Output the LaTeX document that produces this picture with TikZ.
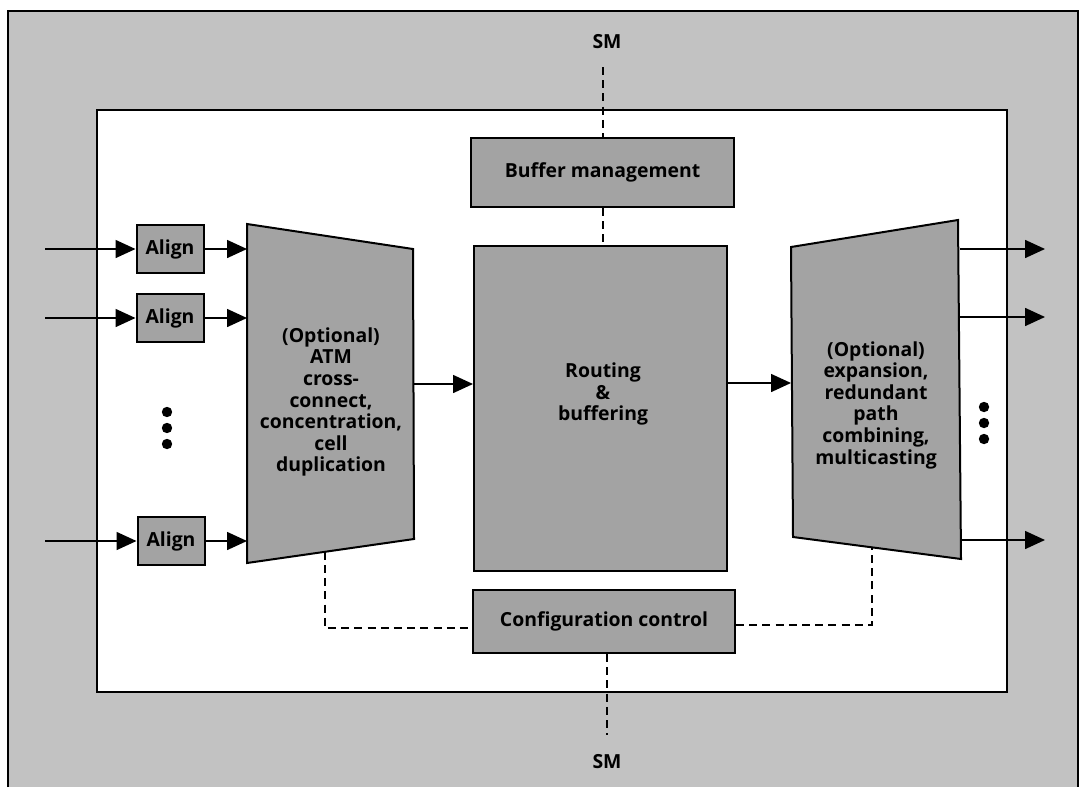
\documentclass[tikz,border=0pt]{standalone}
\usepackage{fontspec}
\newfontfamily\labelfont{Open Sans}
\usetikzlibrary{arrows.meta,calc}
\definecolor{panelgray}{gray}{0.76}
\definecolor{blockgray}{gray}{0.64}
\tikzset{
  px/.style={x=0.5pt,y=-0.5pt},
  txt/.style={font=\labelfont\bfseries\fontsize{9.7}{10.8}\selectfont},
  block/.style={draw=black,line width=1pt,fill=blockgray},
  boxnode/.style={block,txt,inner sep=0pt,align=center},
  lbl/.style={txt,inner sep=0pt,align=center},
  flow/.style={line width=0.8pt,-{Triangle[length=10pt,width=9pt]}},
  ctrl/.style={line width=0.85pt,dash pattern=on 4pt off 2.6pt},
  dotmark/.style={circle,fill=black,inner sep=0pt,minimum size=5.2pt}
}
\begin{document}
\begin{tikzpicture}[px]
\useasboundingbox (0,0) rectangle (1081,787);
% page ground and shaded surround
\fill[white] (0,0) rectangle (1081,787);
\fill[panelgray] (8,11) rectangle (1078,787);
\draw[line width=0.6pt] (8,787) -- (8,11) -- (1078,11) -- (1078,787);
% switch enclosure
\draw[line width=1pt,fill=white] (97,110) rectangle (1007,692);

% input alignment stages
\node[boxnode,minimum width=33.5pt,minimum height=24pt] (al1) at (170,249) {Align};
\node[boxnode,minimum width=33.5pt,minimum height=24pt] (al2) at (170,318) {Align};
\node[boxnode,minimum width=33.5pt,minimum height=24pt] (al3) at (171,541) {Align};
\coordinate (in1) at (45,249);
\coordinate (in2) at (45,318);
\coordinate (in3) at (45,541);
\node[dotmark] (ld1) at (167,412) {};
\node[dotmark] (ld2) at (167,428) {};
\node[dotmark] (ld3) at (167,444) {};

% input cross-connect stage
\coordinate (lt1) at (247,224);
\coordinate (lt2) at (413,249);
\coordinate (lt3) at (414,539);
\coordinate (lt4) at (247,563);
\draw[block] (lt1) -- (lt2) -- (lt3) -- (lt4) -- cycle;
\node[lbl] (xconn) at (331,402) {(Optional)\\ATM\\cross-\\connect,\\concentration,\\cell\\duplication};

% routing core and its buffer manager
\node[boxnode,minimum width=126.5pt,minimum height=162.5pt] (core) at (600.5,408.5) {};
\node[lbl] (coretext) at (603,394) {Routing\\\&\\buffering};
\node[boxnode,minimum width=131.5pt,minimum height=34.5pt] (buf) at (602.5,172.5) {Buffer management};

% output expansion stage
\coordinate (rt1) at (791,247);
\coordinate (rt2) at (958,220);
\coordinate (rt3) at (961,559);
\coordinate (rt4) at (793,537);
\draw[block] (rt1) -- (rt2) -- (rt3) -- (rt4) -- cycle;
\node[lbl] (expand) at (876,405) {(Optional)\\expansion,\\redundant\\path\\combining,\\multicasting};
\coordinate (out1) at (1045,249);
\coordinate (out2) at (1045,317);
\coordinate (out3) at (1045,540);
\node[dotmark] (rd1) at (984,407) {};
\node[dotmark] (rd2) at (984,423) {};
\node[dotmark] (rd3) at (984,439) {};

% configuration controller
\node[boxnode,minimum width=131pt,minimum height=31.5pt] (cfg) at (604,621.5) {Configuration control};

% system management labels
\node[lbl] (smtop) at (607,42) {SM};
\node[lbl] (smbot) at (607,762) {SM};
\coordinate (smtopend) at (603,67);
\coordinate (smbotend) at (607,735);

% cell flow
\foreach \i in {1,2,3} {
  \draw[flow] (in\i) -- (al\i.west);
  \draw[flow] (al\i.east) -- (al\i.east -| lt1);
}
\draw[flow] (lt2 |- 0,384) -- (core.west |- 0,384);
\draw[flow] (core.east |- 0,383) -- (rt1 |- 0,383);
\draw[flow] (960,249) -- (out1);
\draw[flow] (960,317) -- (out2);
\draw[flow] (960,540) -- (out3);

% management and control paths
\draw[ctrl] (smtopend) -- (buf.north -| smtopend);
\draw[ctrl] (buf.south -| smtopend) -- (core.north -| smtopend);
\draw[ctrl] (cfg.south -| smbotend) -- (smbotend);
\coordinate (lfoot) at ($(lt4)!0.467!(lt3)$);
\coordinate (rfoot) at ($(rt4)!0.47!(rt3)$);
\draw[ctrl] (lfoot) |- (cfg.west |- 0,628);
\draw[ctrl] (cfg.east |- 0,625) -| (rfoot);
\end{tikzpicture}
\end{document}
